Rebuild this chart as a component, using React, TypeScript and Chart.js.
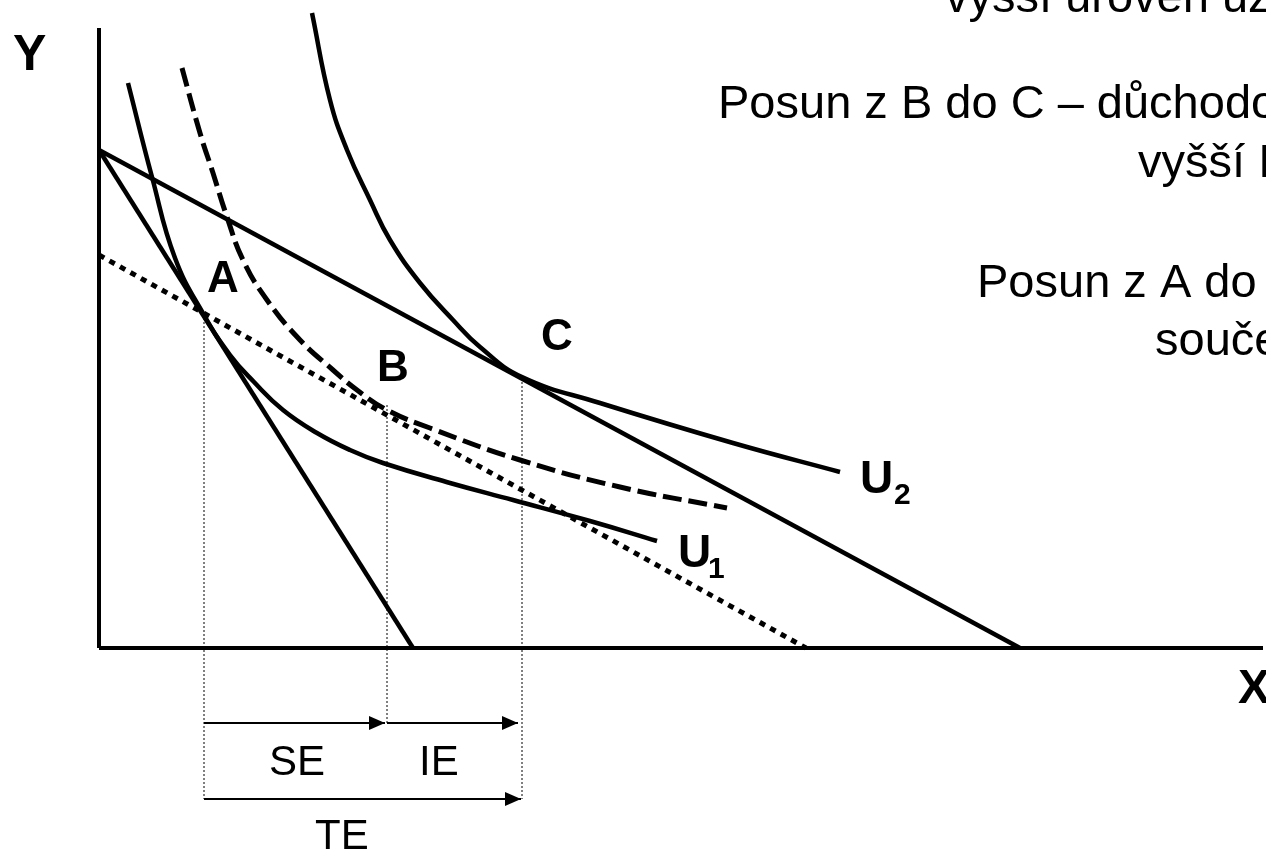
import React, { useEffect, useRef } from "react";
import { Chart, registerables } from "chart.js";

Chart.register(...registerables);

// ---- Data (arbitrary units: origin at axes' intersection, X right, Y up) ----
const axisYX = [0, 0];
const axisYY = [0, 62];
const axisXX = [0, 116.4];
const axisXY = [0, 0];

// Original budget line (steep)
const budget1X = [0, 31.4];
const budget1Y = [49.8, 0];
// New budget line after price fall (flatter)
const budget2X = [0, 92.1];
const budget2Y = [49.8, 0];
// Compensated budget line (dotted)
const compX = [0, 70.7];
const compY = [39.3, 0];

// Indifference curve U1
const u1X = [2.9, 5.3, 7.6, 10.5, 13.1, 15.5, 18.4, 21.8, 25.1, 28.4, 35.1, 41.4, 49.1, 55.8];
const u1Y = [56.5, 47.1, 39.0, 33.3, 29.3, 26.6, 23.8, 21.5, 19.8, 18.5, 16.5, 14.8, 12.7, 10.7];
// Shifted U1 (dashed), tangent to compensated line at B
const u1sX = [8.3, 10.1, 11.4, 12.8, 14.4, 16.8, 20.1, 23.4, 25.8, 28.8, 33.1, 42.1, 52.1, 62.8];
const u1sY = [58.0, 51.5, 47.5, 43.1, 38.8, 34.8, 30.8, 27.8, 25.8, 23.8, 22.0, 18.8, 16.1, 14.0];
// Indifference curve U2
const u2X = [21.3, 23.1, 24.8, 27.1, 29.1, 32.1, 35.4, 38.1, 42.3, 50.1, 63.4, 74.1];
const u2Y = [63.5, 54.8, 49.8, 44.8, 40.8, 36.5, 32.8, 30.1, 27.1, 24.5, 20.5, 17.6];

// Equilibrium points A, B, C (x) and the drop-line ranges
const pointNames = ["A", "B", "C"];
const dropX = [10.5, 28.8, 42.3];
const dropTop = [33.4, 24.3, 26.6];
const dropBottom = [-15.1, -7.5, -15.1];

// Effect arrows
const seX = [10.5, 28.6];
const ieX = [28.8, 41.9];
const teX = [10.5, 42.2];
const arrowRow1Y = -7.5;
const arrowRow2Y = -15.1;

const FONT = "'Liberation Sans', Arial, Helvetica, sans-serif";

type Lbl = { text: string; x: number; y: number; font: string };
const labels: Lbl[] = [
  { text: "Y", x: -8.6, y: 57.8, font: `bold 50px ${FONT}` },
  { text: "X", x: 113.9, y: -5.5, font: `bold 48px ${FONT}` },
  { text: "A", x: 10.8, y: 35.6, font: `bold 44px ${FONT}` },
  { text: "B", x: 27.8, y: 26.7, font: `bold 44px ${FONT}` },
  { text: "C", x: 44.2, y: 29.8, font: `bold 44px ${FONT}` },
  { text: "U", x: 76.1, y: 15.5, font: `bold 46px ${FONT}` },
  { text: "2", x: 79.5, y: 14.4, font: `bold 30px ${FONT}` },
  { text: "U", x: 57.9, y: 8.1, font: `bold 46px ${FONT}` },
  { text: "1", x: 60.9, y: 7.0, font: `bold 30px ${FONT}` },
  { text: "SE", x: 17.0, y: -12.7, font: `42px ${FONT}` },
  { text: "IE", x: 32.0, y: -12.7, font: `42px ${FONT}` },
  { text: "TE", x: 21.6, y: -20.1, font: `42px ${FONT}` },
  { text: "vyšší úroveň užitku", x: 84.6, y: 63.6, font: `47px ${FONT}` },
  { text: "Posun z B do C – důchodový efekt –", x: 61.9, y: 53.0, font: `47px ${FONT}` },
  { text: "vyšší IK", x: 103.9, y: 47.1, font: `47px ${FONT}` },
  { text: "Posun z A do C – celkový efekt –", x: 87.8, y: 35.1, font: `47px ${FONT}` },
  { text: "součet SE a IE", x: 105.6, y: 29.3, font: `47px ${FONT}` },
];

const zip = (xs: number[], ys: number[]) => xs.map((x, i) => ({ x, y: ys[i] }));

const line = (data: { x: number; y: number }[], extra: any = {}) => ({
  data,
  showLine: true,
  borderColor: "#000",
  backgroundColor: "#000",
  borderWidth: 4.5,
  pointRadius: 0,
  pointHoverRadius: 0,
  fill: false,
  tension: 0,
  clip: false,
  borderCapStyle: "butt",
  borderJoinStyle: "round",
  ...extra,
});

const overlayPlugin = {
  id: "overlay",
  afterDatasetsDraw(chart: any) {
    const ctx = chart.ctx;
    const xs = chart.scales.x;
    const ys = chart.scales.y;
    ctx.save();
    // arrowheads
    chart.data.datasets.forEach((ds: any, i: number) => {
      if (!ds.arrowHead) return;
      const meta = chart.getDatasetMeta(i);
      const n = meta.data.length;
      const tip = meta.data[n - 1];
      const prev = meta.data[n - 2];
      const ang = Math.atan2(tip.y - prev.y, tip.x - prev.x);
      const len = 16;
      const hw = 7;
      ctx.fillStyle = "#000";
      ctx.beginPath();
      ctx.moveTo(tip.x, tip.y);
      ctx.lineTo(
        tip.x - len * Math.cos(ang) - hw * Math.sin(ang),
        tip.y - len * Math.sin(ang) + hw * Math.cos(ang)
      );
      ctx.lineTo(
        tip.x - len * Math.cos(ang) + hw * Math.sin(ang),
        tip.y - len * Math.sin(ang) - hw * Math.cos(ang)
      );
      ctx.closePath();
      ctx.fill();
    });
    // labels
    ctx.fillStyle = "#000";
    ctx.textAlign = "left";
    ctx.textBaseline = "alphabetic";
    labels.forEach((l) => {
      ctx.font = l.font;
      ctx.fillText(l.text, xs.getPixelForValue(l.x), ys.getPixelForValue(l.y));
    });
    ctx.restore();
  },
};

export default function App() {
  const ref = useRef<HTMLCanvasElement | null>(null);

  useEffect(() => {
    if (!ref.current) return;
    document.body.style.margin = "0";
    const thinDotted = { borderWidth: 1, borderDash: [2, 2] };
    const drops = pointNames.map((_, i) =>
      line(zip([dropX[i], dropX[i]], [dropTop[i], dropBottom[i]]), thinDotted)
    );
    const curve = { tension: 0.45 };
    const chart = new Chart(ref.current, {
      type: "scatter",
      data: {
        datasets: [
          ...drops,
          line(zip(axisYX, axisYY), { borderWidth: 4 }),
          line(zip(axisXX, axisXY), { borderWidth: 4 }),
          line(zip(budget1X, budget1Y)),
          line(zip(budget2X, budget2Y)),
          line(zip(compX, compY), { borderWidth: 5, borderDash: [6, 6] }),
          line(zip(u1X, u1Y), curve),
          line(zip(u1sX, u1sY), { ...curve, borderWidth: 5, borderDash: [19, 7] }),
          line(zip(u2X, u2Y), curve),
          line(zip(seX, [arrowRow1Y, arrowRow1Y]), { borderWidth: 2, arrowHead: true }),
          line(zip(ieX, [arrowRow1Y, arrowRow1Y]), { borderWidth: 2, arrowHead: true }),
          line(zip(teX, [arrowRow2Y, arrowRow2Y]), { borderWidth: 2, arrowHead: true }),
        ] as any,
      },
      options: {
        animation: false,
        responsive: false,
        maintainAspectRatio: false,
        layout: { padding: 0 },
        plugins: { legend: { display: false }, tooltip: { enabled: false } },
        events: [],
        scales: {
          x: { type: "linear", min: -9.9, max: 116.7, display: false },
          y: { type: "linear", min: -20.4, max: 64.8, display: false },
        },
      } as any,
      plugins: [overlayPlugin],
    });
    return () => chart.destroy();
  }, []);

  return (
    <div
      style={{
        position: "fixed",
        left: 0,
        top: 0,
        width: 1266,
        height: 852,
        background: "#fff",
        overflow: "hidden",
      }}
    >
      <canvas ref={ref} width={1266} height={852} style={{ display: "block" }} />
    </div>
  );
}
